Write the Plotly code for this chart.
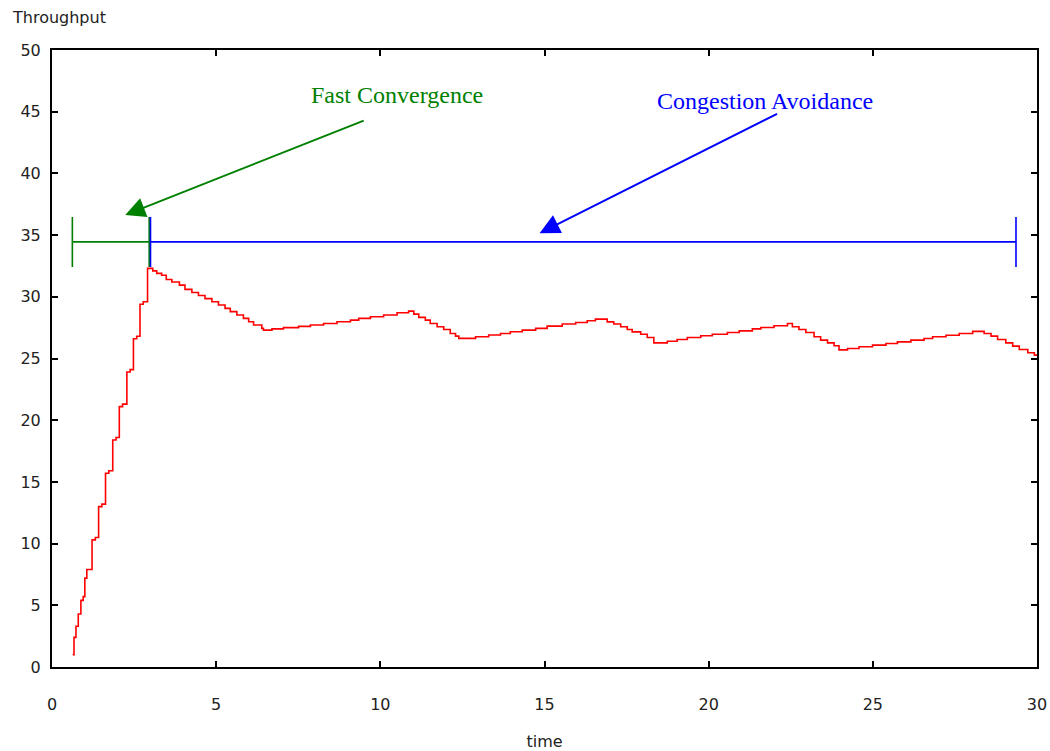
import plotly.graph_objects as go

# Throughput trace (stepped), read as (time, throughput) vertices
time = [0.63, 0.67, 0.73, 0.80, 0.88, 0.95, 1.00, 1.06, 1.22, 1.32, 1.42, 1.52, 1.63, 1.73, 1.85, 1.95,
        2.05, 2.15, 2.28, 2.38, 2.48, 2.58, 2.68, 2.78, 2.91, 3.07, 3.19, 3.34, 3.48, 3.65, 3.88, 4.05,
        4.26, 4.46, 4.66, 4.87, 5.07, 5.27, 5.43, 5.63, 5.83, 5.99, 6.14, 6.39, 6.44, 6.70, 7.05, 7.51,
        7.87, 8.27, 8.68, 9.09, 9.34, 9.70, 10.10, 10.51, 10.86, 11.02, 11.17, 11.37, 11.52, 11.73,
        11.93, 12.13, 12.29, 12.39, 12.90, 13.30, 13.66, 13.96, 14.32, 14.73, 15.08, 15.54, 15.95,
        16.30, 16.55, 16.91, 17.11, 17.32, 17.52, 17.67, 17.93, 18.13, 18.33, 18.74, 19.04, 19.35,
        19.76, 20.11, 20.57, 20.93, 21.33, 21.59, 21.99, 22.40, 22.55, 22.75, 22.96, 23.21, 23.41,
        23.62, 23.82, 23.97, 24.23, 24.58, 24.99, 25.40, 25.75, 26.16, 26.56, 26.82, 27.23, 27.63,
        28.04, 28.39, 28.60, 28.80, 29.05, 29.26, 29.46, 29.72, 29.92, 30.00]
throughput = [1.0, 2.4, 3.3, 4.3, 5.4, 5.7, 7.2, 7.9, 10.3, 10.5, 13.0, 13.2, 15.7, 15.9, 18.4, 18.6,
              21.1, 21.3, 23.9, 24.1, 26.6, 26.8, 29.4, 29.6, 32.3, 32.1, 31.9, 31.75, 31.4, 31.2,
              30.95, 30.6, 30.35, 30.1, 29.85, 29.6, 29.33, 29.06, 28.8, 28.52, 28.25, 27.98, 27.71,
              27.44, 27.3, 27.4, 27.5, 27.6, 27.71, 27.84, 27.98, 28.11, 28.25, 28.38, 28.52, 28.71,
              28.84, 28.6, 28.33, 28.11, 27.84, 27.57, 27.35, 27.03, 26.81, 26.63, 26.76, 26.9, 27.03,
              27.17, 27.3, 27.44, 27.62, 27.79, 27.92, 28.06, 28.19, 27.97, 27.79, 27.57, 27.35, 27.16,
              26.97, 26.7, 26.27, 26.4, 26.54, 26.7, 26.84, 26.97, 27.11, 27.24, 27.4, 27.51, 27.65,
              27.84, 27.57, 27.35, 27.11, 26.76, 26.49, 26.27, 26.03, 25.7, 25.81, 25.95, 26.08, 26.22,
              26.35, 26.49, 26.62, 26.76, 26.89, 27.03, 27.2, 27.03, 26.81, 26.54, 26.27, 26.0, 25.73,
              25.46, 25.27, 25.2]

# Phase spans drawn as horizontal bars with end caps
fast_start, fast_end = 0.62, 2.96
avoid_start, avoid_end = 3.0, 29.36
span_level = 34.45

x_ticks = [0, 5, 10, 15, 20, 25, 30]
y_ticks = [0, 5, 10, 15, 20, 25, 30, 35, 40, 45, 50]

GREEN = "#008000"
BLUE = "#0000ff"
TEXT = "#222222"
SANS = "DejaVu Sans"

fig = go.Figure()

fig.add_trace(go.Scatter(
    x=time, y=throughput, mode="lines", line=dict(color="#ff0000", width=1.6, shape="hv"),
    showlegend=False, hoverinfo="skip"))

for start, end, color in [(fast_start, fast_end, GREEN), (avoid_start, avoid_end, BLUE)]:
    mid = (start + end) / 2
    fig.add_trace(go.Scatter(
        x=[mid], y=[span_level], mode="markers",
        marker=dict(size=1, color="rgba(0,0,0,0)"),
        error_x=dict(type="data", array=[end - mid], visible=True, color=color,
                     thickness=1.6, width=25),
        showlegend=False, hoverinfo="skip"))

label_font = dict(family="Liberation Serif, Times New Roman, serif", size=24)

fig.add_annotation(x=10.52, y=46.35, text="Fast Convergence", showarrow=False,
                   font=dict(color=GREEN, **label_font))
fig.add_annotation(x=21.71, y=45.87, text="Congestion Avoidance", showarrow=False,
                   font=dict(color=BLUE, **label_font))

fig.add_annotation(x=2.23, y=36.63, ax=9.54, ay=44.33, axref="x", ayref="y", text="",
                   showarrow=True, arrowhead=2, arrowsize=2, arrowwidth=2, arrowcolor=GREEN)
fig.add_annotation(x=14.85, y=35.16, ax=22.13, ay=44.89, axref="x", ayref="y", text="",
                   showarrow=True, arrowhead=2, arrowsize=2, arrowwidth=2, arrowcolor=BLUE)

fig.add_annotation(xref="paper", yref="paper", x=-0.043, y=1.052, xanchor="left", yanchor="middle",
                   text="Throughput", showarrow=False,
                   font=dict(family=SANS, size=16, color=TEXT))

axis_common = dict(showline=True, linecolor="black", linewidth=2, mirror="ticks",
                   ticks="inside", ticklen=6, tickwidth=2, tickcolor="black",
                   showgrid=False, zeroline=False, automargin=False,
                   tickfont=dict(family=SANS, size=16, color=TEXT))

fig.update_xaxes(range=[0, 30], tickvals=x_ticks, ticktext=[str(v) for v in x_ticks],
                 ticklabelstandoff=22,
                 title=dict(text="time", font=dict(family=SANS, size=16, color=TEXT),
                            standoff=34),
                 **axis_common)
fig.update_yaxes(range=[0, 50], tickvals=y_ticks, ticktext=[str(v) for v in y_ticks],
                 ticklabelstandoff=6, **axis_common)

fig.update_layout(
    width=1050, height=751,
    margin=dict(l=52, r=13, t=50, b=84),
    plot_bgcolor="white", paper_bgcolor="white",
)

fig.write_html("out.html")
